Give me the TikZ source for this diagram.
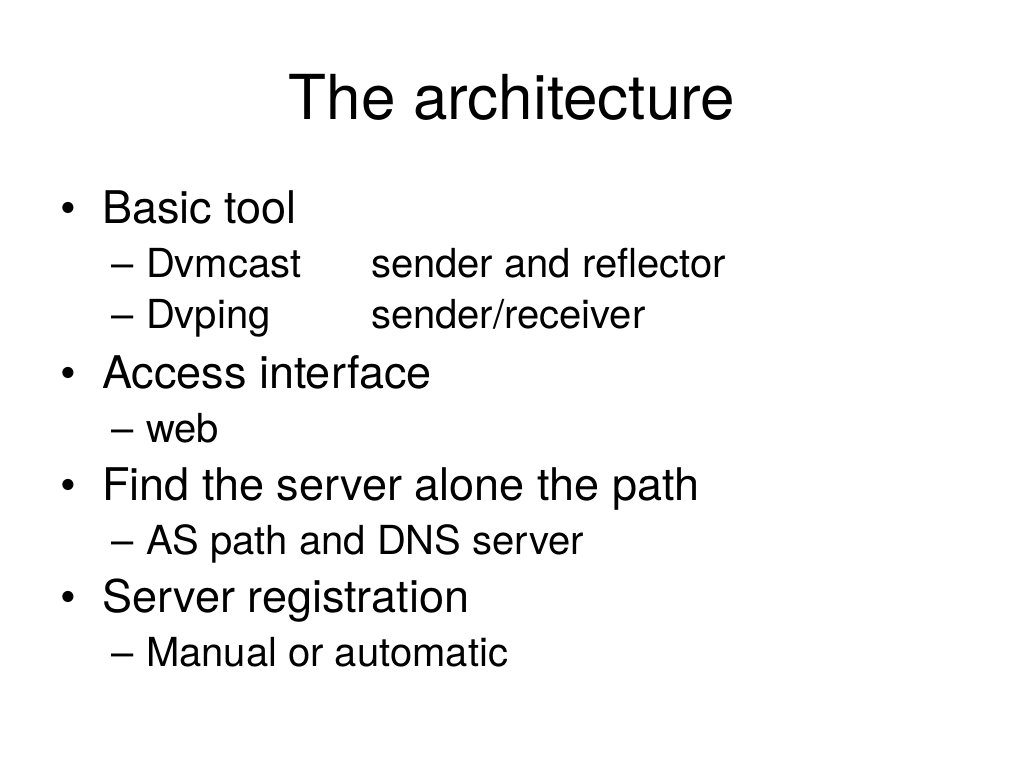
\documentclass[tikz,border=0pt]{standalone}
\usepackage{fontspec}
\setmainfont{TeX Gyre Heros}
\usetikzlibrary{positioning}

\begin{document}
\begin{tikzpicture}[x=1pt,y=-1pt,inner sep=0pt,outer sep=0pt]
  \tikzstyle{slidetitle}=[anchor=base,font=\fontsize{62}{70}\selectfont]
  \tikzstyle{itemone}=[anchor=base west,font=\fontsize{45}{54}\selectfont]
  \tikzstyle{itemtwo}=[anchor=base west,font=\fontsize{40}{48}\selectfont]
  \useasboundingbox (0,0) rectangle (1024,768);

  % Title
  \node[slidetitle] (title) at (512,119) {The architecture};

  % Bullets
  \node[itemone] (b1) at (60,223) {\textbullet};
  \node[itemone] (basic) at (102,223) {Basic tool};
  \node[itemtwo] (d1) at (111,277) {--};
  \node[itemtwo] (dvmcast) at (146,277) {Dvmcast};
  \node[itemtwo] (dvmrole) at (371,277) {sender and reflector};
  \node[itemtwo] (d2) at (111,328) {--};
  \node[itemtwo] (dvping) at (146,328) {Dvping};
  \node[itemtwo] (dvprole) at (371,328) {sender/receiver};

  \node[itemone] (b2) at (60,388) {\textbullet};
  \node[itemone] (access) at (102,388) {Access interface};
  \node[itemtwo] (d3) at (111,442) {--};
  \node[itemtwo] (web) at (146,442) {web};

  \node[itemone] (b3) at (60,500) {\textbullet};
  \node[itemone] (find) at (102,500) {Find the server alone the path};
  \node[itemtwo] (d4) at (111,554) {--};
  \node[itemtwo] (aspath) at (146,554) {AS path and DNS server};

  \node[itemone] (b4) at (60,612) {\textbullet};
  \node[itemone] (reg) at (102,612) {Server registration};
  \node[itemtwo] (d5) at (111,666) {--};
  \node[itemtwo] (manual) at (146,666) {Manual or automatic};
\end{tikzpicture}
\end{document}
